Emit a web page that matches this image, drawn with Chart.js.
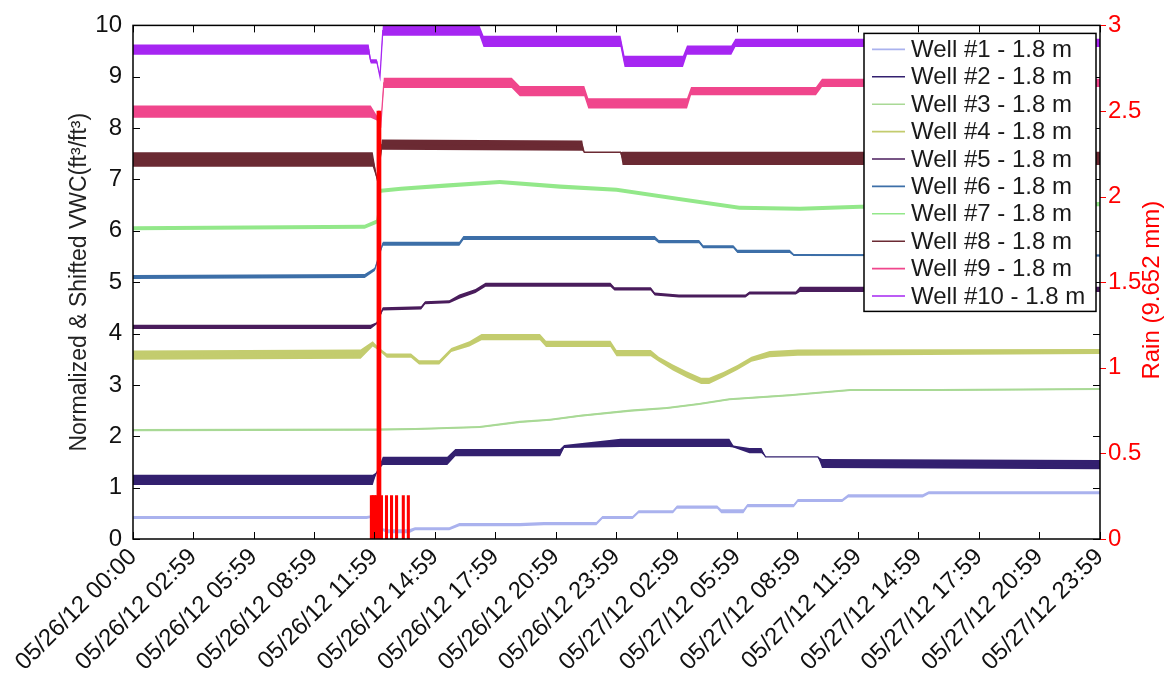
<!DOCTYPE html>
<html>
<head>
<meta charset="utf-8">
<title>Well VWC and rain</title>
<script src="https://cdn.jsdelivr.net/npm/chart.js@4.4.1/dist/chart.umd.min.js"></script>
<style>
    html, body { margin: 0; padding: 0; background: #ffffff; }
    #wrap { width: 1167px; height: 675px; }
</style>
</head>
<body>
<div id="wrap"><canvas id="vwcChart" width="1167" height="675"></canvas></div>
<script>
// Time axis: hours since 05/26/12 00:00
const xTickHours = [0, 2.983, 5.983, 8.983, 11.983, 14.983, 17.983, 20.983, 23.983,
    26.983, 29.983, 32.983, 35.983, 38.983, 41.983, 44.983, 47.983];
const xTickLabels = [
    '05/26/12 00:00', '05/26/12 02:59', '05/26/12 05:59', '05/26/12 08:59',
    '05/26/12 11:59', '05/26/12 14:59', '05/26/12 17:59', '05/26/12 20:59',
    '05/26/12 23:59', '05/27/12 02:59', '05/27/12 05:59', '05/27/12 08:59',
    '05/27/12 11:59', '05/27/12 14:59', '05/27/12 17:59', '05/27/12 20:59',
    '05/27/12 23:59'
];
const rainTickValues = [0, 0.5, 1, 1.5, 2, 2.5, 3];
const rainTickLabels = ['0', '0.5', '1', '1.5', '2', '2.5', '3'];

// Normalized & shifted VWC per well (hours / value / half-width of sensor noise)
const w1Hours  = [0, 11.6, 12.0, 12.3, 12.6, 13.7, 14.0, 15.7, 16.2, 19.2, 20.4, 23.0, 23.3, 24.8, 25.1, 26.8, 27.0, 29.0, 29.2, 30.3, 30.5, 32.8, 33.0, 35.2, 35.5, 39.2, 39.5, 48];
const w1Vwc    = [0.42, 0.42, 0.45, 0.2, 0.15, 0.15, 0.2, 0.2, 0.28, 0.28, 0.3, 0.3, 0.42, 0.42, 0.53, 0.53, 0.62, 0.62, 0.54, 0.54, 0.65, 0.65, 0.75, 0.75, 0.84, 0.84, 0.9, 0.9];
const w1Spread = [0.03, 0.03, 0.02, 0.02, 0.04, 0.04, 0.03, 0.03, 0.03, 0.03, 0.03, 0.03, 0.03, 0.03, 0.03, 0.03, 0.03, 0.03, 0.04, 0.04, 0.03, 0.03, 0.03, 0.03, 0.03, 0.03, 0.03, 0.03];

const w2Hours  = [0, 11.9, 12.1, 12.4, 15.6, 16.0, 21.2, 21.4, 24.2, 29.6, 29.8, 30.6, 31.2, 31.4, 34.0, 34.2, 48];
const w2Vwc    = [1.15, 1.15, 1.3, 1.52, 1.52, 1.68, 1.68, 1.8, 1.87, 1.87, 1.8, 1.72, 1.72, 1.6, 1.6, 1.47, 1.45];
const w2Spread = [0.1, 0.1, 0, 0.08, 0.08, 0.07, 0.07, 0.03, 0.08, 0.08, 0.02, 0.05, 0.05, 0, 0, 0.09, 0.09];

const w3Hours  = [0, 12, 14, 17.2, 19.2, 20.7, 22.2, 24.7, 26.5, 28.1, 29.6, 31.1, 32.6, 35.6, 40, 48];
const w3Vwc    = [2.12, 2.13, 2.14, 2.18, 2.28, 2.32, 2.4, 2.5, 2.55, 2.63, 2.72, 2.76, 2.8, 2.9, 2.9, 2.92];
const w3Spread = [0.02, 0.02, 0.02, 0.02, 0.02, 0.02, 0.02, 0.02, 0.02, 0.02, 0.02, 0.02, 0.02, 0.02, 0.02, 0.02];

const w4Hours  = [0, 11.3, 11.9, 12.2, 12.6, 13.8, 14.2, 15.2, 15.8, 16.7, 17.3, 20.2, 20.5, 23.7, 24.0, 25.7, 26.1, 26.8, 27.5, 28.2, 28.6, 29.3, 30.0, 30.7, 31.6, 33.0, 48];
const w4Vwc    = [3.58, 3.6, 3.8, 3.7, 3.57, 3.57, 3.44, 3.44, 3.68, 3.8, 3.93, 3.93, 3.8, 3.8, 3.62, 3.62, 3.5, 3.34, 3.2, 3.08, 3.08, 3.2, 3.34, 3.5, 3.6, 3.63, 3.65];
const w4Spread = [0.09, 0.09, 0.05, 0.03, 0.04, 0.04, 0.04, 0.04, 0.04, 0.05, 0.06, 0.06, 0.06, 0.06, 0.06, 0.06, 0.05, 0.06, 0.06, 0.06, 0.06, 0.05, 0.05, 0.05, 0.06, 0.06, 0.05];

const w5Hours  = [0, 11.8, 12.1, 12.4, 14.3, 14.5, 15.7, 16.2, 17.0, 17.5, 23.7, 23.9, 25.7, 25.9, 27.1, 30.4, 30.6, 32.9, 33.1, 48];
const w5Vwc    = [4.13, 4.13, 4.2, 4.48, 4.5, 4.6, 4.62, 4.72, 4.83, 4.95, 4.95, 4.87, 4.87, 4.77, 4.73, 4.73, 4.79, 4.79, 4.86, 4.86];
const w5Spread = [0.04, 0.04, 0.02, 0.03, 0.03, 0.03, 0.03, 0.04, 0.04, 0.04, 0.04, 0.03, 0.03, 0.03, 0.03, 0.03, 0.03, 0.03, 0.05, 0.05];

const w6Hours  = [0, 11.5, 12.0, 12.2, 12.4, 16.2, 16.4, 25.9, 26.1, 28.1, 28.3, 29.8, 30.0, 32.6, 32.8, 48];
const w6Vwc    = [5.1, 5.12, 5.25, 5.5, 5.75, 5.75, 5.86, 5.86, 5.79, 5.79, 5.69, 5.69, 5.6, 5.6, 5.53, 5.52];
const w6Spread = [0.04, 0.04, 0.03, 0, 0.04, 0.04, 0.04, 0.04, 0.03, 0.03, 0.03, 0.03, 0.03, 0.03, 0.02, 0.02];

const w7Hours  = [0, 11.5, 12.1, 12.3, 13.3, 15.5, 18.2, 21.2, 24.0, 27.1, 30.1, 33.1, 36.1, 42.0, 48];
const w7Vwc    = [6.05, 6.08, 6.18, 6.78, 6.82, 6.88, 6.95, 6.86, 6.8, 6.62, 6.45, 6.43, 6.47, 6.48, 6.52];
const w7Spread = [0.04, 0.04, 0.04, 0.04, 0.04, 0.04, 0.04, 0.04, 0.04, 0.04, 0.04, 0.04, 0.04, 0.04, 0.04];

const w8Hours  = [0, 11.9, 12.15, 12.35, 22.3, 22.4, 24.2, 24.3, 48];
const w8Vwc    = [7.39, 7.39, 6.95, 7.68, 7.66, 7.53, 7.53, 7.41, 7.41];
const w8Spread = [0.14, 0.14, 0, 0.1, 0.1, 0, 0, 0.13, 0.13];

const w9Hours  = [0, 11.8, 12.1, 12.3, 12.45, 18.8, 19.2, 22.4, 22.6, 27.5, 27.7, 33.9, 34.2, 48];
const w9Vwc    = [8.32, 8.32, 8.2, 8.05, 8.88, 8.88, 8.72, 8.72, 8.48, 8.48, 8.72, 8.72, 8.88, 8.88];
const w9Spread = [0.12, 0.12, 0.05, 0, 0.1, 0.1, 0.1, 0.1, 0.1, 0.1, 0.08, 0.08, 0.08, 0.08];

const w10Hours  = [0, 11.7, 11.8, 12.1, 12.26, 12.4, 17.2, 17.4, 24.2, 24.4, 27.3, 27.5, 29.7, 29.9, 48];
const w10Vwc    = [9.53, 9.53, 9.3, 9.3, 9.0, 9.9, 9.9, 9.69, 9.69, 9.3, 9.3, 9.52, 9.52, 9.66, 9.66];
const w10Spread = [0.1, 0.1, 0.04, 0.04, 0, 0.1, 0.1, 0.11, 0.11, 0.11, 0.11, 0.09, 0.09, 0.08, 0.08];

// Rain gauge tips (mm), 5 minute bins
const rainHours = [11.833, 11.917, 12.0, 12.083, 12.167, 12.25, 12.333, 12.583, 12.833, 13.083, 13.417, 13.667];
const rainMm    = [0.254, 0.254, 0.254, 0.254, 2.5, 2.5, 0.254, 0.254, 0.254, 0.254, 0.254, 0.254];

const FONT = "'Liberation Sans', Arial, Helvetica, sans-serif";
Chart.defaults.font.family = FONT;
Chart.defaults.color = '#111111';

const wells = [
    { label: 'Well #1 - 1.8 m',  color: '#aab2ee', hours: w1Hours,  vwc: w1Vwc,  spread: w1Spread },
    { label: 'Well #2 - 1.8 m',  color: '#33206f', hours: w2Hours,  vwc: w2Vwc,  spread: w2Spread },
    { label: 'Well #3 - 1.8 m',  color: '#a9d996', hours: w3Hours,  vwc: w3Vwc,  spread: w3Spread },
    { label: 'Well #4 - 1.8 m',  color: '#c3cc6e', hours: w4Hours,  vwc: w4Vwc,  spread: w4Spread },
    { label: 'Well #5 - 1.8 m',  color: '#4a1d5c', hours: w5Hours,  vwc: w5Vwc,  spread: w5Spread },
    { label: 'Well #6 - 1.8 m',  color: '#3d6fa8', hours: w6Hours,  vwc: w6Vwc,  spread: w6Spread },
    { label: 'Well #7 - 1.8 m',  color: '#93e88a', hours: w7Hours,  vwc: w7Vwc,  spread: w7Spread },
    { label: 'Well #8 - 1.8 m',  color: '#6b2a33', hours: w8Hours,  vwc: w8Vwc,  spread: w8Spread },
    { label: 'Well #9 - 1.8 m',  color: '#f0468c', hours: w9Hours,  vwc: w9Vwc,  spread: w9Spread },
    { label: 'Well #10 - 1.8 m', color: '#a626f2', hours: w10Hours, vwc: w10Vwc, spread: w10Spread }
];

// Each well: noise band (lower + filled upper) and the centre line
const datasets = [];
wells.forEach(w => {
    const pts = k => w.hours.map((h, i) => ({ x: h, y: w.vwc[i] + k * w.spread[i] }));
    datasets.push({ label: '', data: pts(-1), borderWidth: 0, pointRadius: 0, fill: false, order: 2 });
    datasets.push({ label: '', data: pts(1), borderWidth: 0, pointRadius: 0, fill: '-1',
        backgroundColor: w.color, order: 2 });
    datasets.push({ label: w.label, data: pts(0), borderColor: w.color, borderWidth: 1.3,
        pointRadius: 0, fill: false, order: 1, isWell: true });
});

datasets.push({
    type: 'bar',
    label: 'Rain',
    yAxisID: 'yRain',
    data: rainHours.map((h, i) => ({ x: h, y: rainMm[i] })),
    backgroundColor: '#ff0000',
    barThickness: 2.4,
    order: 0
});

// MATLAB style box with inward ticks on all four sides
const frameTicks = {
    id: 'frameTicks',
    afterDatasetsDraw(chart) {
        const { ctx, chartArea: a, scales } = chart;
        ctx.save();
        ctx.lineWidth = 1;
        ctx.strokeStyle = '#000000';
        ctx.beginPath();
        scales.x.ticks.forEach(t => {
            const px = Math.round(scales.x.getPixelForValue(t.value)) + 0.5;
            ctx.moveTo(px, a.bottom); ctx.lineTo(px, a.bottom - 7);
            ctx.moveTo(px, a.top); ctx.lineTo(px, a.top + 7);
        });
        scales.y.ticks.forEach(t => {
            const py = Math.round(scales.y.getPixelForValue(t.value)) + 0.5;
            ctx.moveTo(a.left, py); ctx.lineTo(a.left + 7, py);
            ctx.moveTo(a.right, py); ctx.lineTo(a.right - 7, py);
        });
        ctx.stroke();

        ctx.strokeStyle = '#ff0000';
        ctx.beginPath();
        scales.yRain.ticks.forEach(t => {
            const py = Math.round(scales.yRain.getPixelForValue(t.value)) + 0.5;
            ctx.moveTo(a.right, py); ctx.lineTo(a.right + 6, py);
        });
        ctx.stroke();

        ctx.lineWidth = 1.5;
        ctx.strokeStyle = '#000000';
        ctx.strokeRect(a.left, a.top, a.right - a.left, a.bottom - a.top);
        ctx.restore();
    }
};

// Legend box in the upper right corner of the plot
const boxLegend = {
    id: 'boxLegend',
    afterDraw(chart) {
        const { ctx, chartArea: a } = chart;
        const items = chart.data.datasets.filter(d => d.isWell);
        const rowH = 27.4;
        const w = 232, h = rowH * items.length + 4;
        const x0 = a.right - w - 4, y0 = a.top + 8;
        ctx.save();
        ctx.fillStyle = '#ffffff';
        ctx.fillRect(x0, y0, w, h);
        ctx.lineWidth = 1.5;
        ctx.strokeStyle = '#000000';
        ctx.strokeRect(x0, y0, w, h);
        ctx.font = '24px ' + FONT;
        ctx.textBaseline = 'middle';
        ctx.textAlign = 'left';
        items.forEach((d, i) => {
            const cy = y0 + 16 + i * rowH;
            ctx.strokeStyle = d.borderColor;
            ctx.lineWidth = 1.6;
            ctx.beginPath();
            ctx.moveTo(x0 + 8, cy); ctx.lineTo(x0 + 41, cy);
            ctx.stroke();
            ctx.fillStyle = '#1a1a1a';
            ctx.fillText(d.label, x0 + 47, cy + 1);
        });
        ctx.restore();
    }
};

// Right axis title, read bottom to top
const rainTitle = {
    id: 'rainTitle',
    afterDraw(chart) {
        const { ctx, chartArea: a } = chart;
        ctx.save();
        ctx.translate(a.right + 52, (a.top + a.bottom) / 2 + 8);
        ctx.rotate(-Math.PI / 2);
        ctx.font = '24px ' + FONT;
        ctx.fillStyle = '#ff0000';
        ctx.textAlign = 'center';
        ctx.textBaseline = 'middle';
        ctx.fillText('Rain (9.652 mm)', 0, 0);
        ctx.restore();
    }
};

new Chart(document.getElementById('vwcChart'), {
    type: 'line',
    data: { datasets: datasets },
    plugins: [frameTicks, boxLegend, rainTitle],
    options: {
        responsive: false,
        animation: false,
        devicePixelRatio: 1,
        layout: { autoPadding: false, padding: { top: 19, left: 0, right: 0, bottom: 0 } },
        plugins: {
            legend: { display: false },
            tooltip: { enabled: false }
        },
        elements: { line: { tension: 0 } },
        scales: {
            x: {
                type: 'linear',
                min: 0,
                max: 48,
                offset: false,
                afterBuildTicks: s => { s.ticks = xTickHours.map(v => ({ value: v })); },
                afterFit: s => { s.height = 136; },
                grid: { display: false, drawTicks: false },
                border: { display: false },
                ticks: {
                    autoSkip: false,
                    minRotation: 45,
                    maxRotation: 45,
                    padding: 4,
                    font: { size: 24 },
                    color: '#111111',
                    callback: (v, i) => xTickLabels[i]
                }
            },
            y: {
                position: 'left',
                min: 0,
                max: 10,
                afterFit: s => { s.width = 133; },
                grid: { display: false, drawTicks: false },
                border: { display: false },
                ticks: { stepSize: 1, padding: 11, font: { size: 24 }, color: '#111111' },
                title: {
                    display: true,
                    text: 'Normalized & Shifted VWC(ft³/ft³)',
                    font: { size: 23 },
                    color: '#222222',
                    padding: { top: 66, bottom: 0 }
                }
            },
            yRain: {
                position: 'right',
                min: 0,
                max: 3,
                afterFit: s => { s.width = 67; },
                afterBuildTicks: s => { s.ticks = rainTickValues.map(v => ({ value: v })); },
                grid: { display: false, drawTicks: false },
                border: { display: false },
                ticks: {
                    padding: 8,
                    font: { size: 24 },
                    color: '#ff0000',
                    callback: (v, i) => rainTickLabels[i]
                }
            }
        }
    }
});
</script>
</body>
</html>
